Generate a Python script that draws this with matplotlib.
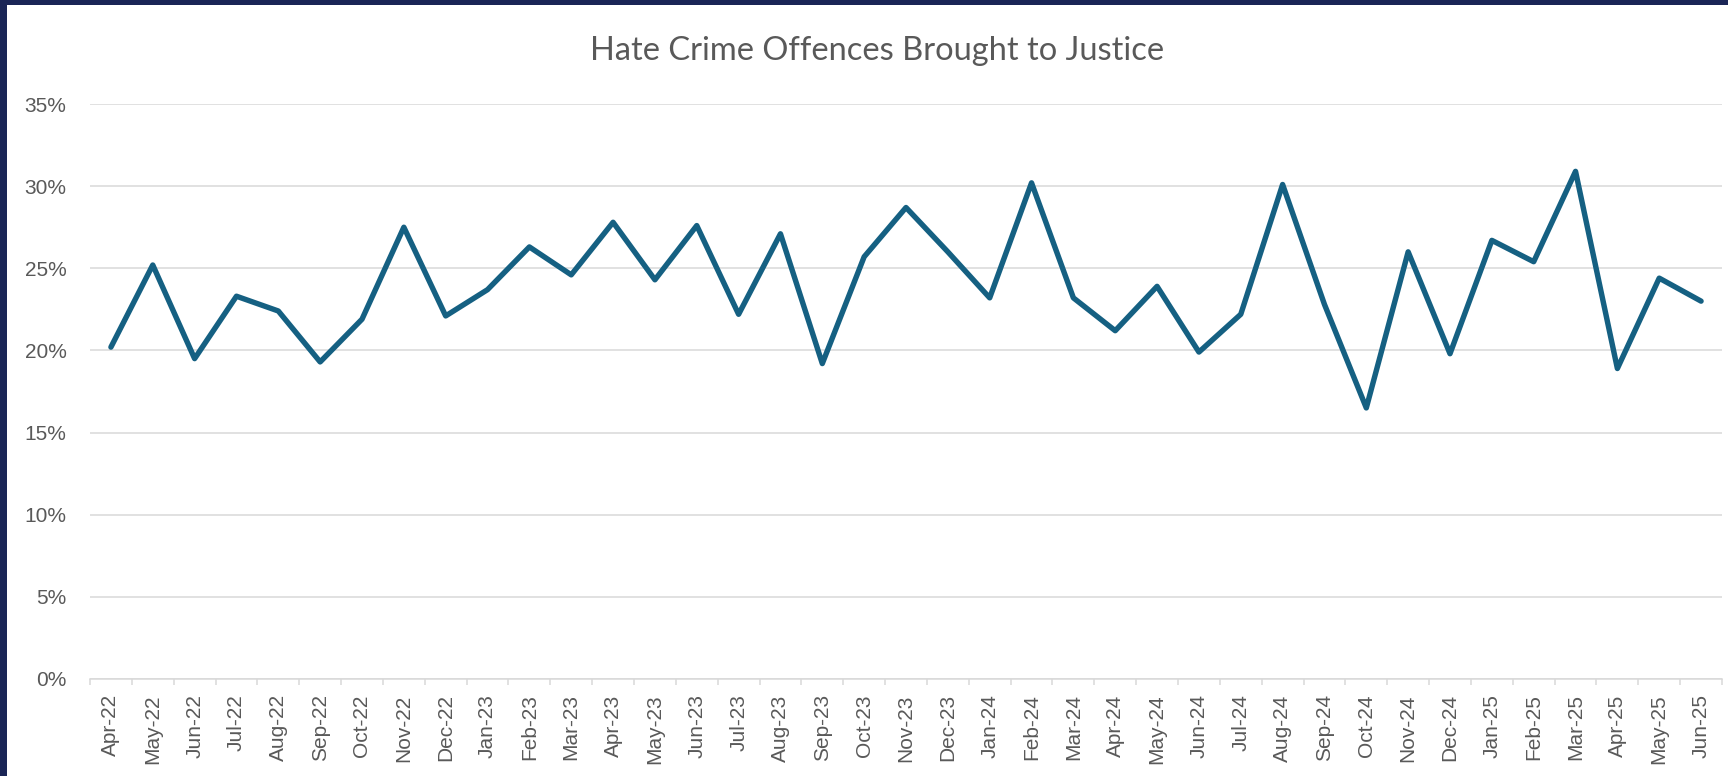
import matplotlib

matplotlib.use("Agg")
import matplotlib.pyplot as plt
from matplotlib.patches import Rectangle
from matplotlib.ticker import FixedLocator, PercentFormatter

# --- data --------------------------------------------------------------------
months = [
    "Apr-22", "May-22", "Jun-22", "Jul-22", "Aug-22", "Sep-22", "Oct-22",
    "Nov-22", "Dec-22", "Jan-23", "Feb-23", "Mar-23", "Apr-23", "May-23",
    "Jun-23", "Jul-23", "Aug-23", "Sep-23", "Oct-23", "Nov-23", "Dec-23",
    "Jan-24", "Feb-24", "Mar-24", "Apr-24", "May-24", "Jun-24", "Jul-24",
    "Aug-24", "Sep-24", "Oct-24", "Nov-24", "Dec-24", "Jan-25", "Feb-25",
    "Mar-25", "Apr-25", "May-25", "Jun-25",
]
rate_pct = [
    20.2, 25.2, 19.5, 23.3, 22.4, 19.3, 21.9, 27.5, 22.1, 23.7,
    26.3, 24.6, 27.8, 24.3, 27.6, 22.2, 27.1, 19.2, 25.7, 28.7,
    26.0, 23.2, 30.2, 23.2, 21.2, 23.9, 19.9, 22.2, 30.1, 22.8,
    16.5, 26.0, 19.8, 26.7, 25.4, 30.9, 18.9, 24.4, 23.0,
]
y_ticks = [0, 5, 10, 15, 20, 25, 30, 35]

title = "Hate Crime Offences Brought to Justice"

LINE = "#156082"
GRID = "#d9d9d9"
TEXT = "#595959"
NAVY = "#1a2556"

plt.rcParams["font.family"] = ["Liberation Sans", "DejaVu Sans"]

fig = plt.figure(figsize=(17.28, 7.76), dpi=100)
ax = fig.add_axes([90 / 1728, 1 - 679 / 776, (1722 - 90) / 1728, (679 - 104) / 776])

x = list(range(len(months)))
ax.plot(x, rate_pct, color=LINE, lw=3.9, solid_joinstyle="round",
        solid_capstyle="round", zorder=3)

ax.set_xlim(-0.5, len(months) - 0.5)
ax.set_ylim(0, 35)

# y axis: gridlines only, percent labels
ax.yaxis.set_major_locator(FixedLocator(y_ticks))
ax.yaxis.set_major_formatter(PercentFormatter(decimals=0))
ax.grid(axis="y", color=GRID, lw=1.1, zorder=0)
ax.tick_params(axis="y", length=0, pad=17, labelsize=15, labelcolor=TEXT)

# x axis: labels centred on categories, tick marks between them
ax.set_xticks(x)
ax.set_xticklabels(months, rotation=90)
ax.set_xticks([i - 0.5 for i in range(len(months) + 1)], minor=True)
ax.tick_params(axis="x", which="major", length=0, pad=11, labelsize=15,
               labelcolor=TEXT)
ax.tick_params(axis="x", which="minor", length=4.5, width=1.1, color=GRID)

for side in ("top", "right", "left"):
    ax.spines[side].set_visible(False)
ax.spines["bottom"].set_color(GRID)
ax.spines["bottom"].set_linewidth(1.1)

fig.text(877 / 1728, 1 - 60 / 776, title, ha="center", va="baseline",
         fontsize=23.5, color=TEXT, family=["Lato", "DejaVu Sans"])

# dark frame on the left and top edges of the screenshot
fig.patches.append(Rectangle((0, 0), 7 / 1728, 1, transform=fig.transFigure,
                             facecolor=NAVY, edgecolor="none", zorder=10))
fig.patches.append(Rectangle((0, 1 - 5 / 776), 1, 5 / 776,
                             transform=fig.transFigure, facecolor=NAVY,
                             edgecolor="none", zorder=10))

fig.savefig("out.png", dpi=100)
plt.close(fig)
